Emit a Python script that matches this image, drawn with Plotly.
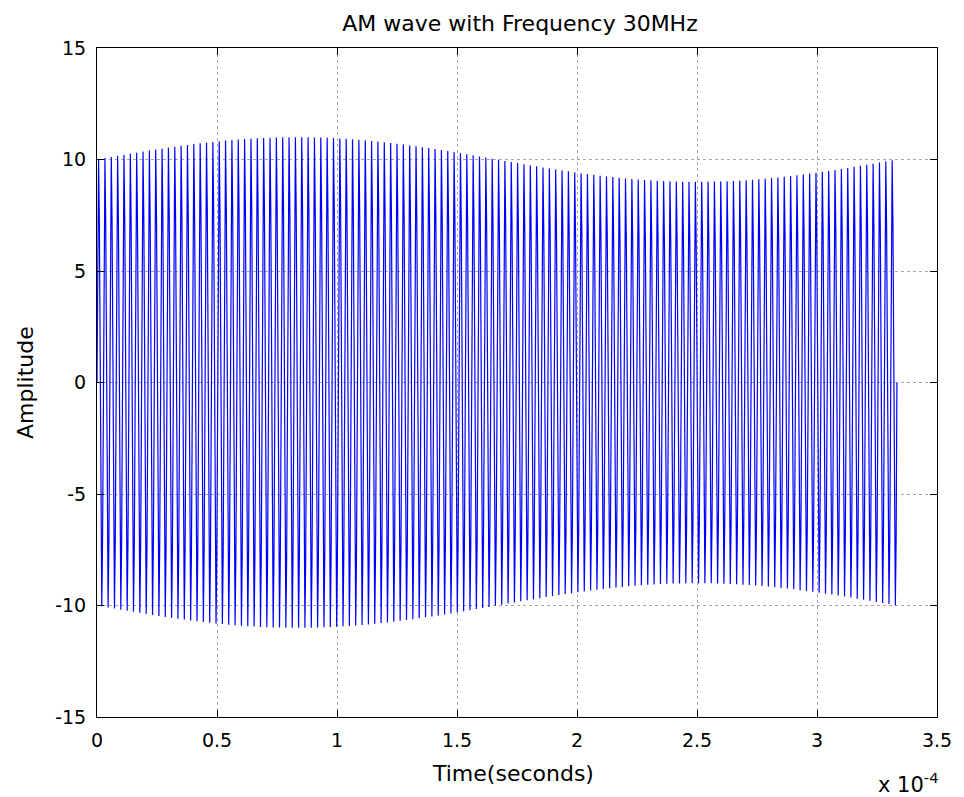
import numpy as np
import plotly.graph_objects as go

# Values
carrier_amplitude = 10.0        # envelope centre level
modulation_index = 0.1          # envelope swings 9 .. 11
message_period = 3.333e-4       # one message cycle spans the trace (s)
visible_carrier_cycles = 126    # cycles counted across the trace (aliased display)
samples_per_cycle = 8

x_tick_vals = [0, 0.5e-4, 1e-4, 1.5e-4, 2e-4, 2.5e-4, 3e-4, 3.5e-4]
x_tick_text = ["0", "0.5", "1", "1.5", "2", "2.5", "3", "3.5"]
y_tick_vals = [-15, -10, -5, 0, 5, 10, 15]
y_tick_text = ["-15", "-10", "-5", "0", "5", "10", "15"]

n = visible_carrier_cycles * samples_per_cycle + 1
t = np.linspace(0, message_period, n)
envelope = carrier_amplitude * (1 + modulation_index * np.sin(2 * np.pi * t / message_period))
wave = envelope * np.sin(2 * np.pi * visible_carrier_cycles * t / message_period)

FONT = "DejaVu Sans, Liberation Sans, Arial, sans-serif"

fig = go.Figure()
fig.add_trace(go.Scatter(x=t, y=wave, mode="lines",
                         line=dict(color="#0000ff", width=1.2), hoverinfo="skip"))

axis_common = dict(
    showline=True, linecolor="black", linewidth=1, mirror="ticks",
    ticks="inside", ticklen=7, tickcolor="black", tickwidth=1,
    showgrid=True, gridcolor="rgba(110,110,110,0.6)", gridwidth=1, griddash="dot",
    zeroline=False, tickfont=dict(family=FONT, size=19, color="black"),
)

fig.update_layout(
    width=964, height=797,
    margin=dict(l=97, r=21, t=48, b=80),
    paper_bgcolor="white", plot_bgcolor="white",
    showlegend=False,
    font=dict(family=FONT, color="black"),
    title=dict(text="AM wave with Frequency 30MHz", x=(97 + 943) / 2 / 964, xanchor="center",
               y=1 - 23 / 797, yanchor="middle", font=dict(family=FONT, size=22, color="black")),
    xaxis=dict(range=[0, 3.5e-4], tickvals=x_tick_vals, ticktext=x_tick_text,
               ticklabelstandoff=6, **axis_common),
    yaxis=dict(range=[-15, 15], tickvals=y_tick_vals, ticktext=y_tick_text,
               ticklabelstandoff=6, **axis_common),
)

fig.add_annotation(text="Time(seconds)", xref="paper", yref="paper", x=(516 - 97) / 846, y=-56 / 669,
                   xanchor="center", yanchor="middle", showarrow=False,
                   font=dict(family=FONT, size=22, color="black"))
fig.add_annotation(text="Amplitude", xref="paper", yref="paper", x=-72 / 846, y=0.5,
                   xanchor="center", yanchor="middle", textangle=-90, showarrow=False,
                   font=dict(family=FONT, size=22, color="black"))
fig.add_annotation(text="x 10<sup>-4</sup>", xref="paper", yref="paper", x=(946 - 97) / 846, y=-66 / 669,
                   xanchor="right", yanchor="middle", showarrow=False,
                   font=dict(family=FONT, size=21, color="black"))

fig.write_html("out.html")
